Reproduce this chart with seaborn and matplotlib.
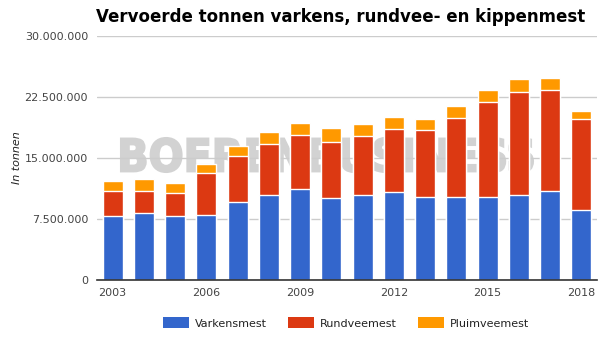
import numpy as np
import pandas as pd
import matplotlib
matplotlib.use("Agg")
import matplotlib.pyplot as plt
import seaborn as sns
from matplotlib.ticker import FuncFormatter
from matplotlib.patches import Patch, PathPatch
from matplotlib.textpath import TextPath
from matplotlib.font_manager import FontProperties
from matplotlib.transforms import Affine2D

years = [str(y) for y in range(2003, 2019)]
varkensmest = [7.9e6, 8.27e6, 7.9e6, 8.03e6, 9.63e6, 10.49e6, 11.23e6, 10.12e6,
               10.41e6, 10.78e6, 10.16e6, 10.16e6, 10.16e6, 10.41e6, 10.9e6, 8.57e6]
rundveemest = [3.08e6, 2.71e6, 2.76e6, 5.09e6, 5.58e6, 6.27e6, 6.56e6, 6.88e6,
               7.26e6, 7.75e6, 8.24e6, 9.72e6, 11.69e6, 12.67e6, 12.42e6, 11.19e6]
pluimveemest = [1.19e6, 1.44e6, 1.27e6, 1.14e6, 1.27e6, 1.44e6, 1.51e6, 1.69e6,
                1.51e6, 1.51e6, 1.4e6, 1.51e6, 1.51e6, 1.62e6, 1.55e6, 1.06e6]
series_names = ["Varkensmest", "Rundveemest", "Pluimveemest"]
tick_years = ["2003", "2006", "2009", "2012", "2015", "2018"]

colors = ["#3366cc", "#dc3912", "#ff9900"]

df = pd.DataFrame({"year": years, "v": varkensmest, "r": rundveemest, "p": pluimveemest})
df["vr"] = df["v"] + df["r"]
df["vrp"] = df["vr"] + df["p"]

sns.set_style("white")
plt.rcParams["font.family"] = ["DejaVu Sans"]

W, H = 613, 340
fig = plt.figure(figsize=(W/100, H/100), dpi=100)
ax = fig.add_axes([97/W, (H-280)/H, 500/W, 244/H])

# watermark, stretched to the reference's box
tp = TextPath((0, 0), "BOERENBUSINESS", size=1,
              prop=FontProperties(family="DejaVu Sans", weight="bold"))
ext = tp.get_extents()
x0, x1, ytop, ybot = 121, 533, 138, 172
sx = (x1 - x0) / ext.width
sy = (ybot - ytop) / ext.height
tr = (Affine2D().translate(-ext.x0, -ext.y0).scale(sx / W, sy / H)
      .translate(x0 / W, (H - ybot) / H) + fig.transFigure)
wm = PathPatch(tp, facecolor="#d2d2d2", edgecolor="#d2d2d2", linewidth=1.5,
               transform=tr, zorder=0.5, clip_on=False)
ax.add_patch(wm)

for col, c in zip(["vrp", "vr", "v"], colors[::-1]):
    sns.barplot(data=df, x="year", y=col, color=c, width=0.64, edgecolor="white",
                linewidth=1.0, saturation=1, ax=ax, zorder=3)

ax.set_ylim(0, 30e6)
ax.set_xlim(-0.5, 15.5)
ax.set_yticks([0, 7.5e6, 15e6, 22.5e6, 30e6])
ax.yaxis.set_major_formatter(FuncFormatter(lambda v, p: f"{int(v):,}".replace(",", ".")))
ax.set_xticks([years.index(y) for y in tick_years])
ax.set_xticklabels(tick_years)
ax.tick_params(axis="both", length=0, labelsize=8, labelcolor="#444444")
ax.tick_params(axis="y", pad=6.5)
ax.tick_params(axis="x", pad=6)
ax.yaxis.grid(True, color="#cccccc", linewidth=1, zorder=1)
ax.set_axisbelow(False)
for gl in ax.get_ygridlines():
    gl.set_zorder(1)
for s in ["top", "right", "left"]:
    ax.spines[s].set_visible(False)
ax.spines["bottom"].set_color("#333333")
ax.spines["bottom"].set_linewidth(1.2)
ax.spines["bottom"].set_zorder(4)
ax.set_xlabel("")
ax.set_ylabel("In tonnen", fontsize=8, fontstyle="italic", color="#222222")
ax.yaxis.set_label_coords(-75/500, 0.5)

fig.text(341/W, 1 - 17/H, "Vervoerde tonnen varkens, rundvee- en kippenmest",
         ha="center", va="center", fontsize=12, fontweight="bold", color="#000000")

handles = [Patch(facecolor=c, edgecolor="none") for c in colors]
fig.legend(handles, series_names, loc="center", bbox_to_anchor=(346/W, 1 - 323/H),
           ncol=3, frameon=False, fontsize=8, handlelength=2.35, handleheight=1.1,
           handletextpad=0.5, columnspacing=1.9, labelcolor="#222222")

fig.savefig("out.png", dpi=100)
